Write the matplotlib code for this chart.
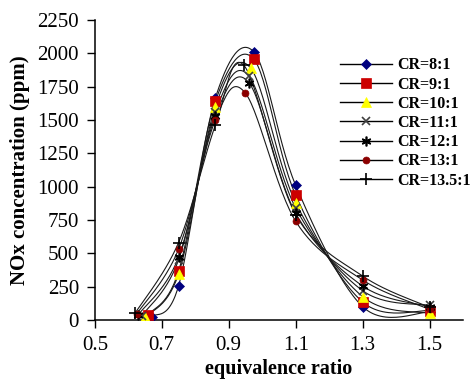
import numpy as np
import matplotlib
matplotlib.use("Agg")
import matplotlib.pyplot as plt

plt.rcParams['font.family'] = ['Liberation Serif', 'DejaVu Serif']

labels = ["CR=8:1", "CR=9:1", "CR=10:1", "CR=11:1", "CR=12:1", "CR=13:1", "CR=13.5:1"]

# equivalence ratio of each point, per series
phi = [
    [0.67, 0.75, 0.86, 0.975, 1.1, 1.3, 1.5],
    [0.66, 0.75, 0.86, 0.975, 1.1, 1.3, 1.5],
    [0.65, 0.75, 0.86, 0.965, 1.1, 1.3, 1.5],
    [0.64, 0.75, 0.86, 0.96, 1.1, 1.3, 1.5],
    [0.63, 0.75, 0.86, 0.96, 1.1, 1.3, 1.5],
    [0.625, 0.75, 0.86, 0.95, 1.1, 1.3, 1.5],
    [0.62, 0.75, 0.86, 0.945, 1.1, 1.3, 1.5],
]
# NOx in ppm
nox = [
    [25, 255, 1665, 2010, 1010, 100, 60],
    [40, 365, 1640, 1955, 935, 135, 70],
    [20, 345, 1600, 1890, 880, 175, 50],
    [30, 450, 1560, 1830, 840, 220, 110],
    [40, 470, 1530, 1780, 800, 255, 100],
    [45, 530, 1500, 1700, 740, 300, 80],
    [50, 580, 1460, 1910, 790, 330, 95],
]

markers = ["D", "s", "^", "x", (6, 2, 0), "o", "+"]
colors = ["#00007f", "#cc0000", "#ffff00", "#404040", "black", "#8b0000", "black"]
sizes = [5, 7, 7, 6, 7, 5, 8]

xlim = (0.5, 1.6)
ylim = (0, 2250)


def smooth(x, y, n=30):
    # excel-style smoothed line: cubic bezier with catmull-rom handles,
    # worked out in screen-like units
    sx = (np.asarray(x) - xlim[0]) / (xlim[1] - xlim[0]) * 368
    sy = (np.asarray(y) - ylim[0]) / (ylim[1] - ylim[0]) * 300
    pts = np.column_stack([sx, sy])
    out = []
    for i in range(len(pts) - 1):
        p0 = pts[max(i - 1, 0)]
        p1 = pts[i]
        p2 = pts[i + 1]
        p3 = pts[min(i + 2, len(pts) - 1)]
        c1 = p1 + (p2 - p0) / 6
        c2 = p2 - (p3 - p1) / 6
        t = np.linspace(0, 1, n)[:, None]
        seg = ((1 - t) ** 3 * p1 + 3 * (1 - t) ** 2 * t * c1
               + 3 * (1 - t) * t ** 2 * c2 + t ** 3 * p2)
        out.append(seg if i == 0 else seg[1:])
    out = np.vstack(out)
    bx = out[:, 0] / 368 * (xlim[1] - xlim[0]) + xlim[0]
    by = out[:, 1] / 300 * (ylim[1] - ylim[0]) + ylim[0]
    return bx, by


fig = plt.figure(figsize=(4.72, 3.83), dpi=100)
ax = fig.add_axes([0.201, 0.1645, 0.78, 0.7835])

for i in range(len(labels)):
    mew = 1.2 if i in (3, 4, 6) else 0.5
    bx, by = smooth(phi[i], nox[i])
    ax.plot(bx, by, color="#1a1a1a", lw=0.8, zorder=2)
    ax.plot(phi[i], nox[i], linestyle="none", marker=markers[i], color=colors[i],
            markersize=sizes[i], markeredgewidth=mew,
            markeredgecolor=colors[i], zorder=3 + i)
    # legend entry: line + marker
    ax.plot([], [], color="black", lw=1.0, marker=markers[i],
            markerfacecolor=colors[i], markeredgecolor=colors[i],
            markersize=sizes[i], markeredgewidth=mew, label=labels[i])

ax.set_xlim(*xlim)
ax.set_ylim(*ylim)
ax.set_xticks([0.5, 0.7, 0.9, 1.1, 1.3, 1.5])
ax.set_xticklabels(["0.5", "0.7", "0.9", "1.1", "1.3", "1.5"])
ax.set_yticks(np.arange(0, 2251, 250))
ax.spines["top"].set_visible(False)
ax.spines["right"].set_visible(False)
ax.spines["left"].set_linewidth(1.1)
ax.spines["bottom"].set_linewidth(1.1)
ax.tick_params(direction="out", length=5.5, width=1, labelsize=15, pad=6)
ax.set_xlabel("equivalence ratio", fontsize=14.5, fontweight="bold", labelpad=3)
ax.set_ylabel("NOx concentration (ppm)", fontsize=15, fontweight="bold", labelpad=5)

ax.legend(loc="upper left", bbox_to_anchor=(0.666, 0.875), frameon=False,
          prop={"weight": "bold", "size": 11.5}, handlelength=3.25,
          labelspacing=0.2, handletextpad=0.35, borderaxespad=0,
          borderpad=0)

fig.savefig("out.png", dpi=100)
